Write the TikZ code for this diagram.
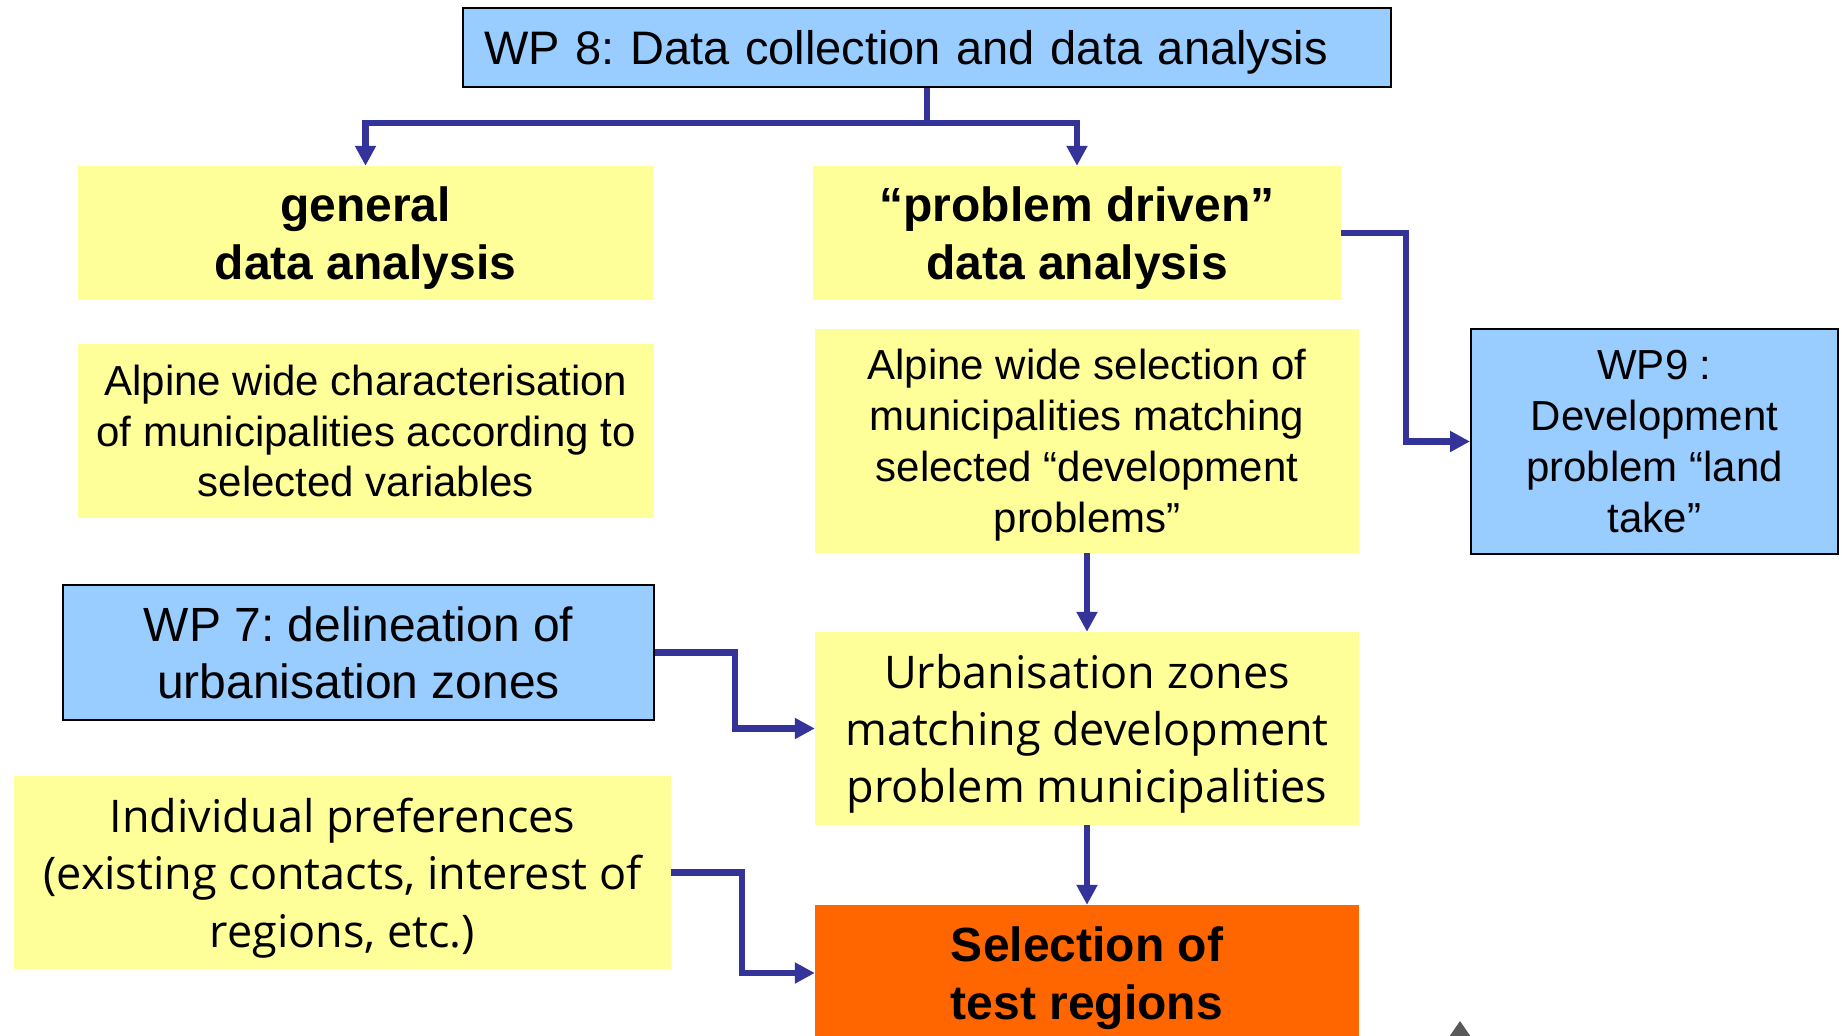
\documentclass[tikz,border=0pt]{standalone}
\usepackage{fontspec}
\setmainfont{Liberation Sans}
\newfontfamily\humfont{Open Sans}
\usetikzlibrary{arrows.meta}
\frenchspacing

\begin{document}
\begin{tikzpicture}[x=1pt, y=-1pt, line join=miter]

% ---------- helpers ----------
\definecolor{boxyellow}{RGB}{255,255,153}
\definecolor{boxblue}{RGB}{153,204,255}
\definecolor{boxorange}{RGB}{255,102,0}
\definecolor{flowblue}{RGB}{51,51,153}

\tikzset{
  ybox/.style={fill=boxyellow, align=center, inner sep=0pt, text depth=0pt},
  bbox/.style={fill=boxblue, draw=black, line width=2pt, align=center, inner sep=0pt, text depth=0pt},
  obox/.style={fill=boxorange, align=center, inner sep=0pt, text depth=0pt},
  flow/.style={draw=flowblue, line width=6.5pt, -{Triangle[length=20pt,width=20pt]}},
}

\useasboundingbox (0,0) rectangle (1842,1036);
\clip (0,0) rectangle (1842,1036);

% ---------- top ----------
\node[bbox, minimum width=928, minimum height=79, text width=886, inner xsep=21pt, align=left,
      font=\fontsize{47}{55}\selectfont] (wp8) at (927,47.5) {WP 8: Data collection and data analysis};

% ---------- left column ----------
\node[ybox, minimum width=575, minimum height=134, font=\bfseries\fontsize{48}{57.6}\selectfont]
  (general) at (365.5,233) {general\\data analysis};
\node[ybox, minimum width=576, minimum height=174, font=\fontsize{42}{50.5}\selectfont]
  (alpchar) at (366,431) {Alpine wide characterisation\\of municipalities according to\\selected variables};
\node[bbox, minimum width=591, minimum height=135, font=\fontsize{48}{56.4}\selectfont]
  (wp7) at (358.5,652.5) {WP 7: delineation of\\urbanisation zones};
\node[ybox, minimum width=657, minimum height=193, font=\humfont\fontsize{45}{57.5}\selectfont]
  (indiv) at (342.5,872.5) {Individual preferences\\(existing contacts, interest of\\regions, etc.)};

% ---------- right column ----------
\node[ybox, minimum width=528, minimum height=134, font=\bfseries\fontsize{48}{57.6}\selectfont]
  (problem) at (1077,233) {“problem driven”\\data analysis};
\node[ybox, minimum width=544, minimum height=224, font=\fontsize{42}{51}\selectfont]
  (alpsel) at (1087,441) {Alpine wide selection of\\municipalities matching\\selected “development\\problems”};
\node[ybox, minimum width=544, minimum height=193, font=\humfont\fontsize{45}{57}\selectfont]
  (urban) at (1087,728.5) {Urbanisation zones\\matching development\\problem municipalities};
\node[obox, minimum width=544, minimum height=136, font=\bfseries\fontsize{48}{58.7}\selectfont]
  (select) at (1087,973) {Selection of\\test regions};
\node[bbox, minimum width=367, minimum height=225, font=\fontsize{42}{51}\selectfont]
  (wp9) at (1654.5,441.5) {WP9 :\\Development\\problem “land\\take”};

% ---------- connectors ----------
\draw[flow] (wp8.south) -- ++(0,35) -| (general.north);
\draw[flow] (wp8.south) -- ++(0,35) -| (problem.north);
\draw[flow] (problem.east) -- ++(65,0) |- (wp9.west);
\draw[flow] (alpsel.south) -- (urban.north);
\draw[flow] (wp7.east) -- ++(80,0) |- (urban.west);
\draw[flow] (urban.south) -- (select.north);
\draw[flow] (indiv.east) -- ++(71,0) |- (select.west);

% cut-off mark at the bottom edge
\fill[gray!70!black] (1460,1021) -- (1471,1037) -- (1449,1037) -- cycle;

\end{tikzpicture}
\end{document}
